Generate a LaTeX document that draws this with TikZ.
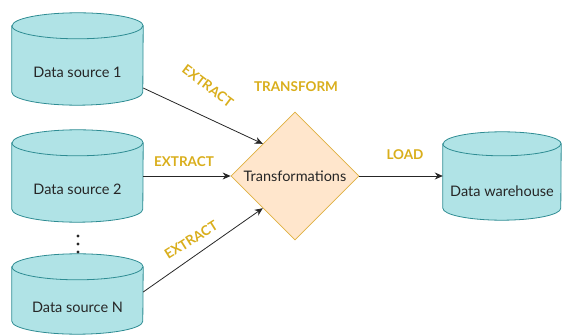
\documentclass[tikz,border=0pt]{standalone}
\usepackage{fontspec}
\setmainfont{Lato}
\usetikzlibrary{shapes.geometric,arrows.meta}
\definecolor{cylfill}{HTML}{B0E3E6}
\definecolor{cylline}{HTML}{2E8C93}
\definecolor{dfill}{HTML}{FFE6CC}
\definecolor{dline}{HTML}{E0B040}
\definecolor{lblcol}{HTML}{D9AE1C}
\newcommand\drawcyl[3]{%
  \path[cylshape] ([yshift=#3]#1.north west) -- ([yshift=#3]#1.south west)
    arc[start angle=180,end angle=360,x radius=#2,y radius=#3]
    -- ([yshift=#3]#1.north east)
    arc[start angle=0,end angle=180,x radius=#2,y radius=#3] -- cycle;
  \draw[cylline,line width=0.8pt] ([yshift=#3]#1.north west)
    arc[start angle=180,end angle=360,x radius=#2,y radius=#3];}
\tikzset{
  cylbox/.style={draw=none,inner sep=0pt,font=\fontsize{14.5}{16}\selectfont,text=black!85},
  cylshape/.style={fill=cylfill,draw=cylline,line width=0.8pt},
  lbl/.style={text=lblcol,font=\fontsize{13.5}{15}\selectfont\bfseries,inner sep=1pt},
  conn/.style={draw=black!85,line width=0.8pt,-{Stealth[length=8pt,width=7pt]}}
}
\begin{document}
\begin{tikzpicture}[x=1pt,y=-1pt]
\useasboundingbox (0,0) rectangle (565,336);
% nodes (body boxes of cylinders)
\node[cylbox,minimum width=131pt,minimum height=66pt] (s1) at (77.5,72) {};
\node[cylbox,minimum width=131pt,minimum height=66pt] (s2) at (77.5,189) {};
\node[cylbox,minimum width=131pt,minimum height=54pt] (sN) at (77.5,307) {};
\node[cylbox,minimum width=118pt,minimum height=64pt] (dw) at (502,188) {};
\drawcyl{s1}{65.5pt}{13pt}
\drawcyl{s2}{65.5pt}{13pt}
\drawcyl{sN}{65.5pt}{13pt}
\drawcyl{dw}{59pt}{12pt}
\node[cylbox] at (s1) {Data source 1};
\node[cylbox] at (s2) {Data source 2};
\node[cylbox] at (sN) {Data source N};
\node[cylbox] at ([yshift=-3pt]dw.center) {Data warehouse};
% dots
\foreach \yy in {236,244,252} \fill[black!85] (78,\yy) circle[radius=1.6pt];
% diamond
\node[diamond,aspect=1,fill=dfill,draw=dline,line width=0.8pt,inner sep=0pt,
      minimum width=128pt,minimum height=128pt,
      font=\fontsize{14.5}{16}\selectfont,text=black!85] (tr) at (295,176) {Transformations};
% connectors
\draw[conn] ([yshift=-16pt]s1.east) -- (tr.north west);
\draw[conn] (s2.east |- tr.west) -- (tr.west);
\draw[conn] ([yshift=15pt]sN.east) -- (tr.south west);
\draw[conn] (tr.east) -- (tr.east -| dw.west);
% labels
\node[lbl,rotate=-37] (l1) at (208,86) {EXTRACT};
\node[lbl] (l2) at (184,162) {EXTRACT};
\node[lbl,rotate=32] (l3) at (191,240) {EXTRACT};
\node[lbl] (l4) at (296,87) {TRANSFORM};
\node[lbl] (l5) at (405,155) {LOAD};
\end{tikzpicture}
\end{document}
